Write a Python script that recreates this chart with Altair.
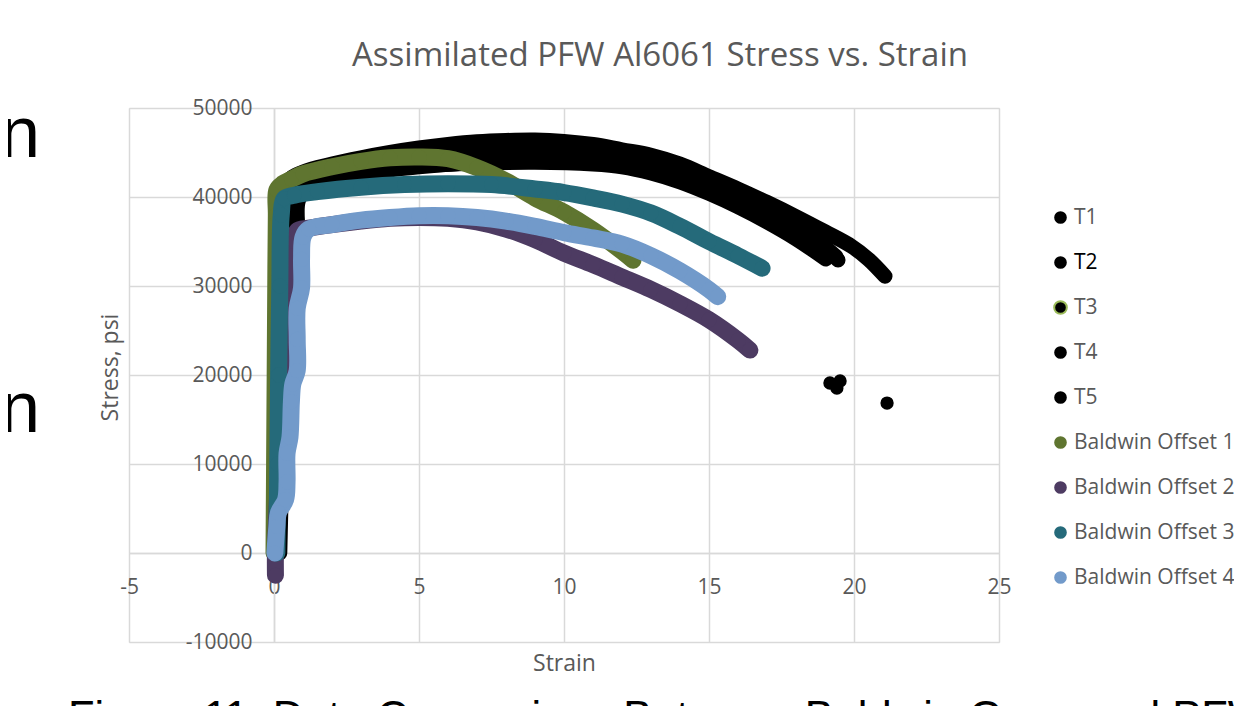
import altair as alt
import pandas as pd

# ---------------- data ----------------
series_names = ["T1", "T2", "T3", "T4", "T5",
                "Baldwin Offset 1", "Baldwin Offset 2", "Baldwin Offset 3", "Baldwin Offset 4"]
series_colors = ["#000000", "#000000", "#000000", "#000000", "#000000",
                 "#5f7530", "#4d3b62", "#256a7a", "#729aca"]

t1_x = [0.1, 0.15, 0.2, 0.3, 0.4, 1.0, 2, 3, 4, 5, 6, 7, 8, 9, 10, 11, 12, 13, 14, 15, 16, 17, 18, 19, 19.9, 20.5, 21.07]
t1_y = [0, 12000, 25000, 38000, 41500, 42800, 43700, 44400, 45000, 45500, 45900, 46200, 46350, 46400, 46250, 45900,
        45300, 44700, 43700, 42300, 40900, 39400, 37800, 36100, 34500, 33000, 31100]

t2_x = [0.15, 0.2, 0.3, 0.4, 0.7, 1.5, 3, 5, 7, 9, 11, 12, 13, 14, 15, 16, 17, 18, 19, 19.45]
t2_y = [0, 14000, 28000, 40000, 41800, 42700, 43700, 44500, 44900, 45000, 44700, 44300, 43600, 42600, 41400, 40000,
        38400, 36800, 34300, 32920]

t3_x = [0.05, 0.15, 0.25, 0.35, 0.6, 1.5, 3, 5, 7, 9, 11, 12, 13, 14, 15, 16, 17, 18, 19.03]
t3_y = [0, 15000, 30000, 39500, 41000, 41900, 42800, 43500, 43800, 43900, 43700, 43400, 42700, 41700, 40400, 38900,
        37200, 35300, 33030]

t4_x = [0.2, 0.3, 0.4, 0.45, 0.8, 1.5, 3, 5, 7, 9, 11, 12, 13, 14, 15, 16, 17, 18, 19.38]
t4_y = [0, 14000, 30000, 40500, 42200, 43000, 44200, 45000, 45400, 45500, 45200, 44700, 44000, 43000, 41800, 40400,
        38800, 37000, 33300]

t5_x = [0.1, 0.35, 0.6, 0.8, 0.82, 0.85, 1.2, 2, 3, 5, 7, 9, 11, 12, 13, 14, 15, 16, 17, 18, 19.1]
t5_y = [0, 10000, 20000, 30000, 36000, 39700, 41000, 41900, 42600, 43400, 43900, 44100, 43900, 43600, 43000, 42100,
        40900, 39500, 37800, 35900, 33500]

b1_x = [0.0, 0.02, 0.04, 0.06, 0.08, 0.1, 0.3, 0.6, 1, 2, 3, 4, 5, 6, 7, 8, 9, 10, 11, 12, 12.38]
b1_y = [0, 10000, 20000, 30000, 38000, 40800, 41500, 42000, 42600, 43400, 44000, 44400, 44500, 44300, 43300, 41800,
        39900, 38300, 36300, 33900, 32900]

b2_x = [0.05, 0.05, 0.15, 0.3, 0.4, 0.55, 0.7, 0.8, 1.2, 2, 3, 4, 5, 6, 7, 8, 9, 10, 11, 12, 13, 14, 15, 16, 16.41]
b2_y = [-2500, 0, 8000, 16000, 24000, 30000, 35000, 36200, 36500, 36900, 37300, 37600, 37700, 37600, 37200, 36400,
        35200, 33700, 32400, 31000, 29600, 28000, 26200, 23900, 22800]

b3_x = [0.1, 0.13, 0.16, 0.2, 0.25, 0.35, 0.7, 1.5, 3, 4.5, 6, 7.5, 9, 10, 11, 12, 13, 14, 15, 16, 16.83]
b3_y = [0, 10000, 20000, 30000, 38000, 39800, 40200, 40600, 41100, 41400, 41500, 41400, 40900, 40500, 39900, 39200,
        38200, 36700, 35000, 33400, 32000]

b4_x = [0.03, 0.1, 0.15, 0.4, 0.45, 0.45, 0.55, 0.6, 0.65, 0.8, 0.8, 0.8, 0.95, 0.95, 1.0, 1.2, 2, 3, 4, 5, 6, 7, 8,
        9, 10, 11, 12, 13, 14, 15, 15.3]
b4_y = [0, 3000, 4500, 6000, 8000, 11200, 13000, 17000, 19000, 20500, 24000, 27500, 29800, 33000, 35500, 36400,
        36900, 37400, 37700, 37900, 37900, 37700, 37300, 36700, 36000, 35400, 34700, 33400, 31700, 29600, 28800]

fracture_series = ["T1", "T2", "T3", "T4"]
fracture_x = [21.14, 19.52, 19.17, 19.41]
fracture_y = [16850, 19330, 19100, 18540]

x_ticks = [-5, 0, 5, 10, 15, 20, 25]
y_ticks = [-10000, 0, 10000, 20000, 30000, 40000, 50000]

chart_title = "Assimilated PFW Al6061 Stress vs. Strain"
x_title = "Strain"
y_title = "Stress, psi"
doc_caption = "Figure 11: Data Comparison Between Baldwin Gage and PFW Test Data"
doc_letter = "n"

series_xy = [(t1_x, t1_y), (t2_x, t2_y), (t3_x, t3_y), (t4_x, t4_y), (t5_x, t5_y),
             (b1_x, b1_y), (b2_x, b2_y), (b3_x, b3_y), (b4_x, b4_y)]

# ---------------- chart ----------------
FONT = "Open Sans"
GREY = "#595959"
GRID = "#d9d9d9"

color_scale = alt.Scale(domain=series_names, range=series_colors)

x_enc = alt.X("x:Q", scale=alt.Scale(domain=[-5, 25], nice=False, zero=False),
              axis=alt.Axis(values=x_ticks, title=x_title, offset=-89, grid=True, gridColor=GRID, gridWidth=1.5,
                            domainColor=GRID, domainWidth=1.5, ticks=False, tickSize=0, labelFlush=False,
                            labelFont=FONT, labelFontSize=21, labelColor=GREY, labelPadding=23,
                            labelExpr="'' + datum.value",
                            titleFont=FONT, titleFontSize=23, titleColor=GREY, titleFontWeight="normal",
                            titleX=435, titleY=99))
y_enc = alt.Y("y:Q", scale=alt.Scale(domain=[-10000, 50000], nice=False, zero=False),
              axis=alt.Axis(values=y_ticks, title=y_title, offset=-145, grid=True, gridColor=GRID, gridWidth=1.5,
                            domainColor=GRID, domainWidth=1.5, ticks=False, tickSize=0, labelFlush=False,
                            labelFont=FONT, labelFontSize=21, labelColor=GREY, labelPadding=22,
                            labelExpr="'' + datum.value",
                            titleFont=FONT, titleFontSize=23, titleColor=GREY, titleFontWeight="normal",
                            titleX=-152, titleY=259))

legend = alt.Legend(title=None, orient="none", legendX=921, legendY=99, padding=0,
                    labelFont=FONT, labelFontSize=21,
                    labelColor={"expr": "datum.label === 'T2' ? '#000000' : '#595959'"},
                    symbolType="circle", symbolSize=160,
                    symbolStrokeColor={"expr": "datum.label === 'T3' ? '#9bbb59' : 'transparent'"},
                    symbolStrokeWidth=2,
                    rowPadding=23, labelOffset=3, labelLimit=300)

layers = []
for i, (name, (xs, ys)) in enumerate(zip(series_names, series_xy)):
    df = pd.DataFrame({"x": xs, "y": ys, "i": list(range(len(xs))), "series": name})
    is_t = name.startswith("T")
    sw = 15 if is_t else 17
    size = 177 if is_t else 227
    line = alt.Chart(df).mark_line(color=series_colors[i], strokeWidth=sw, strokeCap="round",
                                   strokeJoin="round", interpolate="catmull-rom", clip=True
                                   ).encode(x=x_enc, y=y_enc, order="i:Q")
    pts = alt.Chart(df).mark_circle(size=size, opacity=1, clip=True).encode(
        x=x_enc, y=y_enc, color=alt.Color("series:N", scale=color_scale, legend=legend))
    layers += [line, pts]

frac_df = pd.DataFrame({"x": fracture_x, "y": fracture_y, "series": fracture_series})
frac = alt.Chart(frac_df).mark_circle(size=177, opacity=1).encode(
    x=x_enc, y=y_enc, color=alt.Color("series:N", scale=color_scale, legend=legend))
layers.insert(10, frac)

letter1 = alt.Chart(pd.DataFrame({"t": [doc_letter]})).mark_text(
    font="Liberation Sans", fontSize=72, color="#000000", align="left", baseline="alphabetic"
).encode(text="t:N", x=alt.value(-129), y=alt.value(49))
letter2 = alt.Chart(pd.DataFrame({"t": [doc_letter]})).mark_text(
    font="Liberation Sans", fontSize=72, color="#000000", align="left", baseline="alphabetic"
).encode(text="t:N", x=alt.value(-129), y=alt.value(324))
caption = alt.Chart(pd.DataFrame({"t": [doc_caption]})).mark_text(
    font="Liberation Sans", fontSize=43.5, color="#000000", align="left", baseline="alphabetic"
).encode(text="t:N", x=alt.value(-61), y=alt.value(624))

chart = alt.layer(*layers, letter1, letter2, caption).properties(
    width=870, height=534,
    title=alt.TitleParams(chart_title, font=FONT, fontSize=33, color=GREY, fontWeight="normal",
                          anchor="middle", dx=96, offset=24),
    autosize=alt.AutoSizeParams(type="none"),
    padding={"left": 121, "top": 100, "right": 235, "bottom": 64},
).configure_view(stroke=None).configure(background="white")

chart.save("out.html", embed_options={"renderer": "svg", "actions": False})
